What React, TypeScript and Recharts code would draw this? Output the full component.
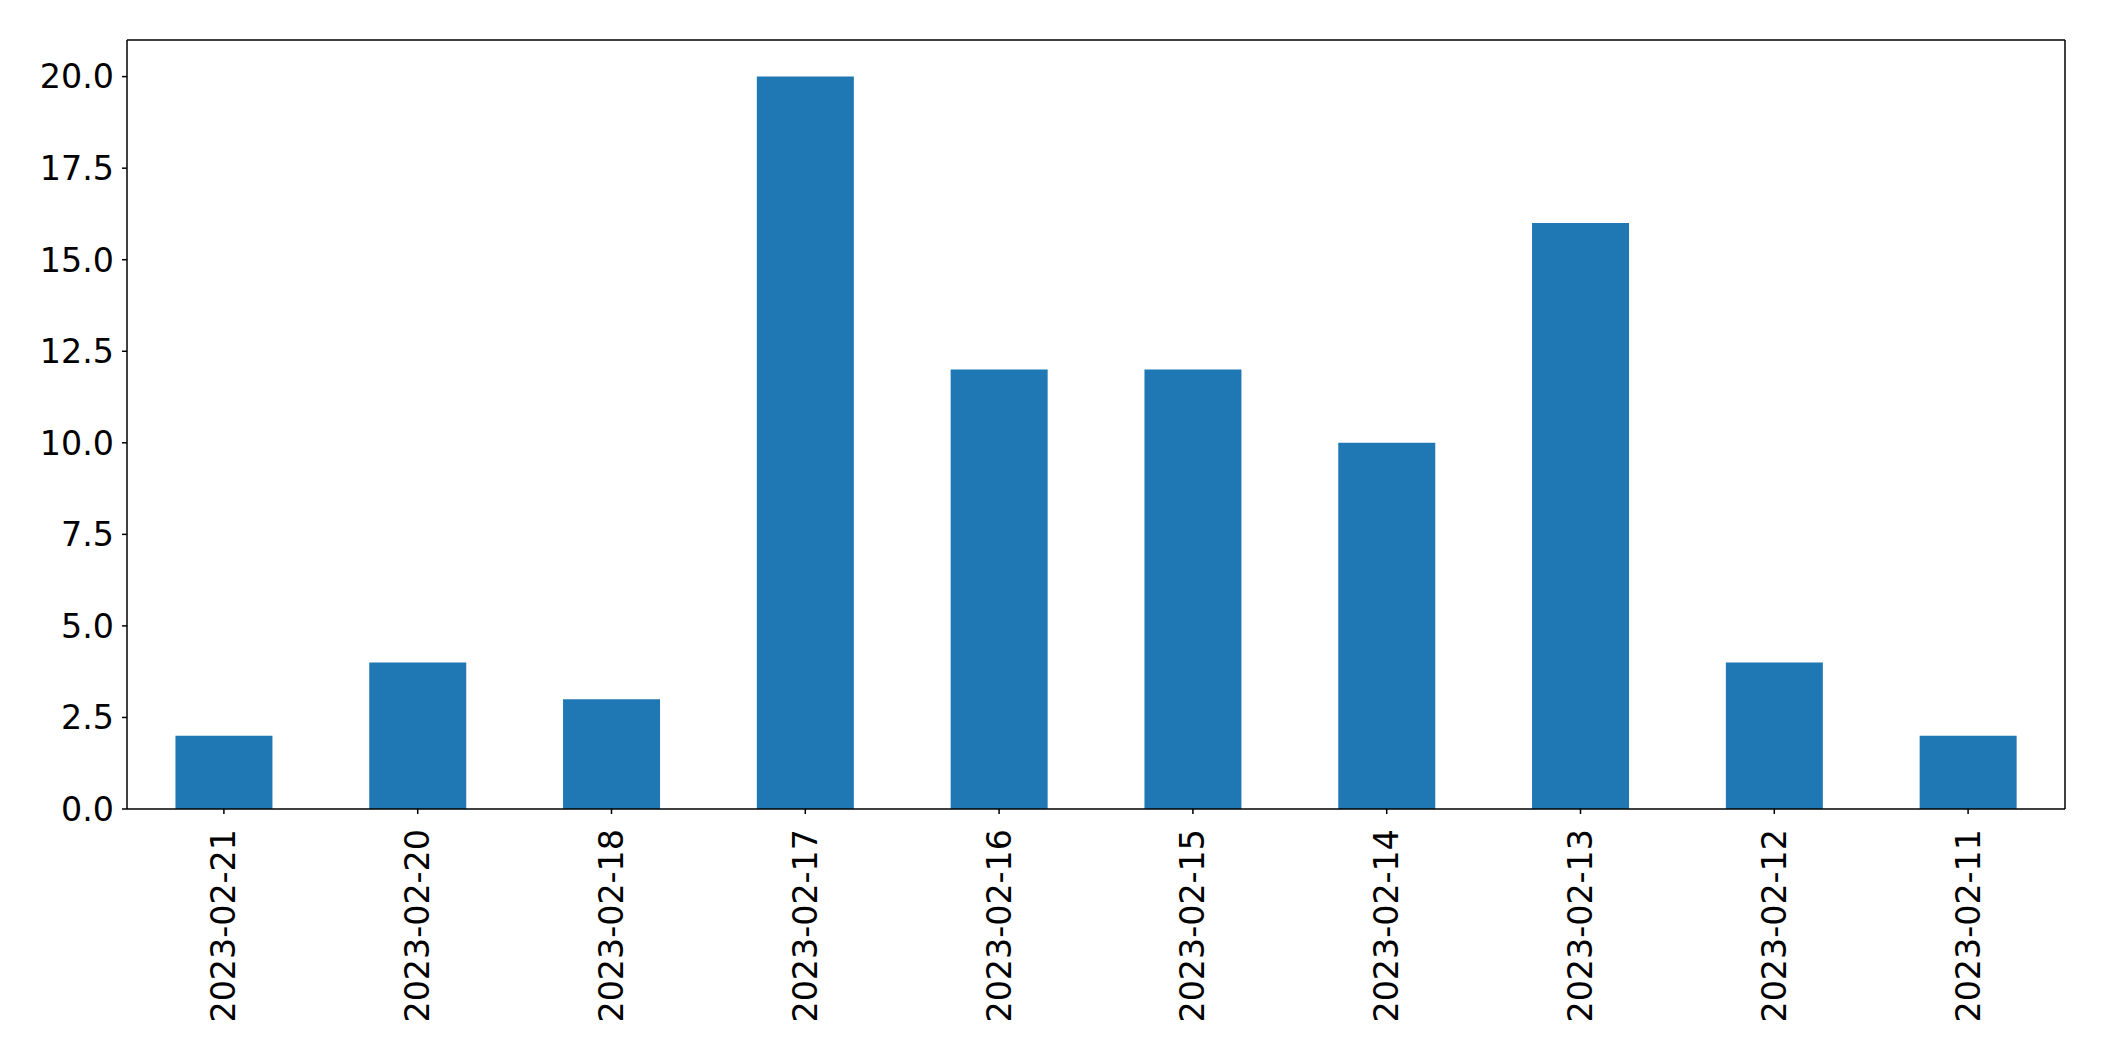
import { BarChart, Bar, XAxis, YAxis } from "recharts";

const dates = [
  "2023-02-21",
  "2023-02-20",
  "2023-02-18",
  "2023-02-17",
  "2023-02-16",
  "2023-02-15",
  "2023-02-14",
  "2023-02-13",
  "2023-02-12",
  "2023-02-11",
];
const counts = [2, 4, 3, 20, 12, 12, 10, 16, 4, 2];
const yTicks = [0, 2.5, 5, 7.5, 10, 12.5, 15, 17.5, 20];

const chartData = dates.map((date, i) => ({ date, count: counts[i] }));

const FONT = "DejaVu Sans, sans-serif";
const LINE = { stroke: "#000", strokeWidth: 1.5 };

const DateTick = ({ x, y, payload }: any) => (
  <text
    x={x}
    y={y + 13}
    transform={`rotate(-90, ${x}, ${y + 13})`}
    textAnchor="end"
    dominantBaseline="central"
    fontSize={33.3}
    fontFamily={FONT}
    fill="#000"
  >
    {payload.value}
  </text>
);

export default function App() {
  return (
    <div style={{ position: "absolute", left: 0, top: 0, background: "#fff" }}>
      <BarChart
        width={2104}
        height={1061}
        data={chartData}
        margin={{ top: 39, right: 38, bottom: 0, left: 0 }}
        barCategoryGap="25%"
      >
        <XAxis
          dataKey="date"
          height={252}
          interval={0}
          tick={<DateTick />}
          tickSize={5}
          axisLine={LINE}
          tickLine={LINE}
        />
        <XAxis
          xAxisId="top"
          dataKey="date"
          orientation="top"
          height={1}
          tick={false}
          tickLine={false}
          axisLine={LINE}
        />
        <YAxis
          width={127}
          domain={[0, 21]}
          ticks={yTicks}
          interval={0}
          tickFormatter={(v: number) => v.toFixed(1)}
          tickSize={5}
          tickMargin={8}
          tick={{ fontSize: 33.3, fontFamily: FONT, fill: "#000" }}
          axisLine={LINE}
          tickLine={LINE}
        />
        <YAxis
          yAxisId="right"
          orientation="right"
          width={1}
          domain={[0, 21]}
          tick={false}
          tickLine={false}
          axisLine={LINE}
        />
        <Bar dataKey="count" fill="#1f77b4" isAnimationActive={false} />
      </BarChart>
    </div>
  );
}
